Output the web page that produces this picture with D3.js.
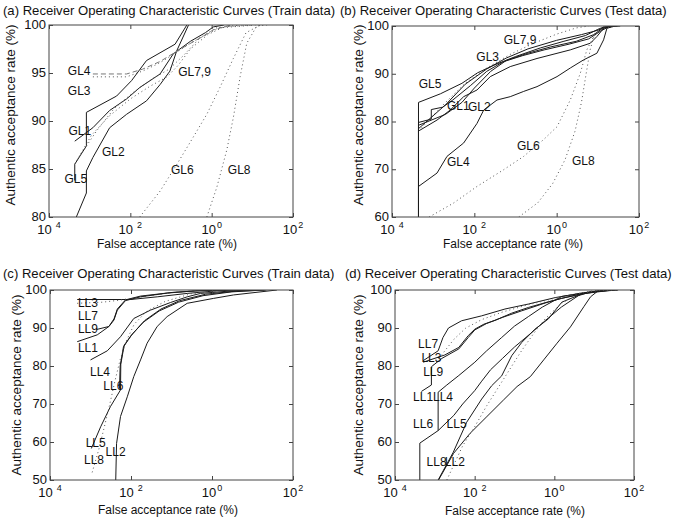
<!DOCTYPE html>
<html>
<head>
<meta charset="utf-8">
<script src="https://cdn.jsdelivr.net/npm/d3@7"></script>
<style>
  body { margin: 0; background: #fff; }
  svg { display: block; }
  text { font-family: "Liberation Sans", Arial, Helvetica, sans-serif; fill: #111; }
</style>
</head>
<body>
<svg id="chart" width="677" height="520"></svg>
<script>
// x values are false acceptance rate (%), y values authentic acceptance rate (%)
var xTicks = [1e-4, 1e-2, 1e0, 1e2];
var yTicksA = [80, 85, 90, 95, 100];
var yTicksB = [60, 70, 80, 90, 100];
var yTicksCD = [50, 60, 70, 80, 90, 100];

var titles = [
  "(a) Receiver Operating Characteristic Curves (Train data)",
  "(b) Receiver Operating Characteristic Curves (Test data)",
  "(c) Receiver Operating Characteristic Curves (Train data)",
  "(d) Receiver Operating Characteristic Curves (Test data)"
];

var seriesA = [
  {name: "GL1", pts: [[4.3e-4,87.9],[1.2e-3,89.3],[3.1e-3,91.1],[8.1e-3,92.3],[0.0172,93.5],[0.054,94.9],[0.114,97.0],[0.3,98.3],[0.7,99.2],[1.1,99.8],[2,100]]},
  {name: "GL2", pts: [[4.7e-4,80],[8.3e-4,82.5],[8.3e-4,84.8],[1.2e-3,86.2],[3.1e-3,89.3],[8.1e-3,90.7],[0.025,92.1],[0.054,93.8],[0.094,95.2],[0.138,97.3],[0.27,100]]},
  {name: "GL3", pts: [[1.2e-3,94.6],[8.1e-3,94.6],[0.02,95.2],[0.05,96.0],[0.12,97.0],[0.3,98.1],[0.7,99.0],[1.3,99.7],[5,100]]},
  {name: "GL4", pts: [[1.2e-3,94.9],[8.1e-3,94.9],[0.02,95.4],[0.054,96.2],[0.12,97.1],[0.25,97.9],[0.6,98.8],[1.1,99.5],[3,100]]},
  {name: "GL5", pts: [[4.3e-4,83.8],[4.3e-4,85.5],[8.3e-4,87.4],[8.3e-4,90.9],[4.6e-3,92.6],[0.0107,94.2],[0.025,96.3],[0.126,98.0],[0.245,100]]},
  {name: "GL6", pts: [[0.017,80],[0.054,82.7],[0.14,85.5],[0.35,88.3],[0.76,90.7],[1.6,93.5],[3.4,96.5],[7,99.2],[16,100]]},
  {name: "GL7", pts: [[4.3e-4,85.5],[1.1e-3,88.5],[3e-3,90.5],[0.01,92.3],[0.03,93.6],[0.08,94.6],[0.15,95.8],[0.3,97.5],[0.8,99],[2,99.8],[10,100]]},
  {name: "GL8", pts: [[0.76,80],[1.34,83.1],[2.36,87.0],[3.43,90.4],[5.0,94.6],[7.3,98.1],[12.9,99.9],[23,100]]},
  {name: "GL9", pts: [[5e-4,86],[1.5e-3,89],[4e-3,91.3],[0.012,93.0],[0.035,94.4],[0.09,95.4],[0.2,96.8],[0.5,98.6],[1.5,99.7],[12,100]]}
];

var seriesB = [
  {name: "GL1", pts: [[4.4e-4,60],[4.4e-4,79.8],[9e-4,80.5],[9e-4,82.5],[1.7e-3,83.0],[3e-3,84.5],[8e-3,87.5],[0.02,90.5],[0.05,92.5],[0.15,93.8],[0.5,95],[2,96.2],[6,97.3],[12,99],[20,100]]},
  {name: "GL2", pts: [[4.4e-4,60],[4.4e-4,78],[1.24e-3,80.3],[2.6e-3,82.4],[5.5e-3,85.2],[0.0116,86.6],[0.0244,89.4],[0.0746,91.5],[0.333,93.2],[2.14,95.0],[6.6,96.4],[9.5,97.8],[13.8,99.5],[25,100]]},
  {name: "GL3", pts: [[4.4e-4,60],[4.4e-4,79.2],[2e-3,81.5],[5e-3,84],[0.01,87],[0.025,90.5],[0.06,92.8],[0.2,94.3],[0.7,95.6],[3,96.8],[8,98.2],[13,99.5],[25,100]]},
  {name: "GL4", pts: [[4.4e-4,60],[4.4e-4,66.4],[1.24e-3,69.2],[2.17e-3,72.7],[5.5e-3,75.5],[0.0116,79.6],[0.0169,82.4],[0.0355,84.5],[0.0746,85.2],[0.158,86.3],[0.333,87.3],[1.02,89.4],[2.14,91.2],[4.5,92.9],[9.5,94.3],[13.8,97.1],[16.6,99.5],[25,100]]},
  {name: "GL5", pts: [[4.4e-4,60],[4.4e-4,84.0],[1.5e-3,85.8],[5e-3,88.0],[0.012,90.2],[0.03,91.8],[0.1,93.6],[0.4,95.4],[1.5,96.8],[5,98.0],[10,99.3],[14,99.8],[35,100]]},
  {name: "GL6", pts: [[8e-4,60],[3.1e-3,62.9],[0.0116,66.4],[0.0515,69.9],[0.158,72.7],[0.48,76.2],[1.02,78.9],[2.14,84.5],[3.75,90.1],[5.4,95],[7.9,97.8],[13.8,99.5],[30,100]]},
  {name: "GL7", pts: [[4.4e-4,78],[2e-3,84],[6e-3,88],[0.02,91.2],[0.08,94.2],[0.3,96.5],[1,98.3],[3,99.6],[6,100]]},
  {name: "GL8", pts: [[0.12,60],[0.35,63],[0.8,67],[1.6,72],[2.8,78],[4,84],[5.2,90],[6.5,95],[8.5,98.5],[14,100]]},
  {name: "GL9", pts: [[4.4e-4,60],[4.4e-4,78.5],[2e-3,83.5],[6e-3,87.8],[0.02,91],[0.06,93.3],[0.2,95.2],[1,97],[4,98.2],[10,99.1],[15,99.8],[30,100]]}
];

var seriesC = [
  {name: "LL1", pts: [[4.7e-4,86.4],[1.47e-3,88.2],[2.85e-3,90.4],[3.8e-3,92.4],[4.6e-3,95.0],[7.3e-3,97.4],[0.0172,98.4],[0.114,99.4],[0.52,99.8],[2,100]]},
  {name: "LL2", pts: [[4.2e-3,50],[4.4e-3,59.6],[5.5e-3,66.7],[8.1e-3,71.9],[0.0117,77.2],[0.0172,81.6],[0.025,86.0],[0.0443,90.4],[0.078,93.0],[0.244,96.5],[1.1,97.8],[3.4,98.7],[22.8,99.7],[40,100]]},
  {name: "LL3", pts: [[4.7e-4,97.5],[9.7e-3,97.5],[0.0443,98.2],[0.244,99.1],[1.34,99.8],[5,100]]},
  {name: "LL4", pts: [[1.0e-3,81.6],[2.6e-3,84.0],[5.5e-3,87.7],[0.0117,92.5],[0.0303,94.7],[0.094,96.7],[0.244,98.2],[0.52,99.1],[3.4,99.8],[10,100]]},
  {name: "LL5", pts: [[1.05e-3,58.3],[1.78e-3,64.0],[3.1e-3,69.3],[5.5e-3,73.7],[5.6e-3,80.5],[6.8e-3,85.5],[0.011,88.5],[0.022,92],[0.055,95],[0.16,97.2],[0.7,98.9],[4,99.7],[22,100]]},
  {name: "LL6", pts: [[5.2e-3,74],[5.4e-3,80],[6.5e-3,85],[0.01,88],[0.02,91.5],[0.05,94.5],[0.15,96.8],[0.6,98.5],[3,99.5],[20,100]]},
  {name: "LL7", pts: [[4.7e-4,96.5],[2e-3,96.8],[5e-3,97.3],[0.02,98.3],[0.1,99.3],[0.5,99.9],[2,100]]},
  {name: "LL8", pts: [[1.1e-3,52],[1.6e-3,58],[2.2e-3,64],[3e-3,70],[4e-3,76],[5.5e-3,82],[8e-3,87],[0.012,91],[0.025,94.5],[0.07,97],[0.3,99],[2,100]]},
  {name: "LL9", pts: [[1.4e-3,89.6],[2.85e-3,90.4],[3.8e-3,92.1],[4.6e-3,94.7],[7.3e-3,97.2],[0.0172,98.2],[0.08,99.2],[0.4,99.8],[2,100]]}
];

var seriesD = [
  {name: "LL1", pts: [[4.6e-4,73.3],[8.2e-4,75.0],[8.2e-4,79.8],[1.5e-3,82.0],[4e-3,84.5],[6.9e-3,87.5],[0.0101,89.5],[0.02,91.2],[0.05,92.8],[0.15,94.5],[0.6,96.6],[1.5,97.8],[5.5,99],[20,100]]},
  {name: "LL2", pts: [[1.24e-3,50],[2.95e-3,57.0],[7.7e-3,62.3],[0.0203,66.7],[0.0535,71.1],[0.116,74.6],[0.25,77.2],[0.54,81.6],[1.17,86.0],[2.54,90.3],[5.5,95.6],[8.1,98.2],[11.9,99.6],[40,100]]},
  {name: "LL3", pts: [[5.1e-4,81.0],[1.78e-3,82.9],[4e-3,84.9],[6.9e-3,88.0],[0.0101,89.7],[0.017,91.0],[0.0324,92.0],[0.085,93.9],[0.223,95.4],[0.71,96.9],[1.54,97.8],[5.5,99.2],[20,100]]},
  {name: "LL4", pts: [[1.21e-3,63.0],[1.21e-3,73.1],[2e-3,75],[4e-3,77.5],[0.0101,81],[0.02,84],[0.0476,87.5],[0.1,90.5],[0.223,93],[0.5,95.5],[1.54,98.3],[5.5,99.2],[20,100]]},
  {name: "LL5", pts: [[1.21e-3,50],[2.9e-3,57.3],[6.3e-3,65.2],[0.015,71.3],[0.0267,74.8],[0.0476,77.4],[0.085,82.7],[0.152,86.2],[0.328,89.7],[0.71,92.4],[1.54,96.8],[5,99],[30,100]]},
  {name: "LL6", pts: [[4.2e-4,50],[4.2e-4,59.7],[1.21e-3,63.0],[3e-3,67],[5e-3,70],[0.01,73.5],[0.015,76],[0.025,79],[0.05,82],[0.1,85],[0.25,88.5],[0.6,92],[1.5,95.5],[4,98.5],[8,99.5],[30,100]]},
  {name: "LL7", pts: [[5.1e-4,81.4],[1.21e-3,84.0],[1.6e-3,87.5],[2.2e-3,90.0],[4.7e-3,91.9],[0.015,93.2],[0.0577,95.0],[0.223,96.3],[1.05,98.0],[5.5,99.3],[15,99.8],[38,100]]},
  {name: "LL8", pts: [[2e-3,50],[3e-3,54],[5e-3,59],[0.01,64],[0.02,69.5],[0.04,74.5],[0.08,79.5],[0.15,84],[0.3,88.5],[0.6,92.5],[1.5,96.5],[4,99],[10,99.8],[40,100]]},
  {name: "LL9", pts: [[8.2e-4,79.5],[1.5e-3,83],[3e-3,87],[6e-3,90],[0.015,92.2],[0.05,94.2],[0.2,96],[1,97.8],[5,99.3],[15,100]]}
];

// curve labels: [text, x (%), y (%)]  (left edge, vertical centre)
var labelsA = [["GL4",2.9e-4,95.2],["GL3",2.9e-4,93.2],["GL1",3.0e-4,89.0],["GL2",2.0e-3,86.8],["GL5",2.4e-4,84.0],["GL6",0.10,84.9],["GL8",2.5,84.9],["GL7,9",0.15,95.1]];
var labelsB = [["GL5",4.45e-4,88.0],["GL1",2.17e-3,83.3],["GL2",7.0e-3,83.0],["GL3",0.0112,93.6],["GL7,9",0.0516,97.1],["GL4",2.17e-3,71.5],["GL6",0.109,75.0],["GL8",2.36,71.8]];
var labelsC = [["LL3",4.9e-4,96.7],["LL7",4.9e-4,93.2],["LL9",4.9e-4,89.7],["LL1",4.9e-4,84.7],["LL4",9.7e-4,78.5],["LL6",2.07e-3,74.7],["LL5",7.6e-4,59.7],["LL8",6.9e-4,55.3],["LL2",2.36e-3,57.4]];
var labelsD = [["LL7",3.8e-4,86.0],["LL3",4.6e-4,82.3],["LL9",5.1e-4,78.6],["LL1",2.84e-4,71.8],["LL4",9.0e-4,71.8],["LL6",2.84e-4,64.7],["LL5",1.97e-3,64.7],["LL8",6.2e-4,54.9],["LL2",1.78e-3,54.9]];

// line styles per curve name
var dottedA = ["GL3", "GL6", "GL7", "GL8", "GL9"];
var dashedA = ["GL4"];
var dottedB = ["GL6", "GL7", "GL8"];
var dottedC = ["LL7", "LL8"];
var dottedD = ["LL8", "LL9"];

var svg = d3.select("#chart");

var panels = [
  {id: "a", left: 49, right: 293, top: 25, bottom: 217, y: [80, 100], yTicks: yTicksA, series: seriesA, labels: labelsA, dotted: dottedA, dashed: dashedA,
   titleX: 3, titleY: 15, xlabX: 167, xlabY: 248, ylabX: 15, ylabY: 115},
  {id: "b", left: 392, right: 639, top: 26, bottom: 217, y: [60, 100], yTicks: yTicksB, series: seriesB, labels: labelsB, dotted: dottedB, dashed: [],
   titleX: 340, titleY: 15, xlabX: 513, xlabY: 248, ylabX: 363, ylabY: 115},
  {id: "c", left: 50, right: 293, top: 290, bottom: 480, y: [50, 100], yTicks: yTicksCD, series: seriesC, labels: labelsC, dotted: dottedC, dashed: [],
   titleX: 3, titleY: 278, xlabX: 168, xlabY: 514, ylabX: 21, ylabY: 385},
  {id: "d", left: 395, right: 634, top: 290, bottom: 480, y: [50, 100], yTicks: yTicksCD, series: seriesD, labels: labelsD, dotted: dottedD, dashed: [],
   titleX: 345, titleY: 278, xlabX: 515, xlabY: 515, ylabX: 363, ylabY: 385}
];

panels.forEach(function(p, i) { drawPanel(p, titles[i]); });

function drawPanel(p, title) {
  var x = d3.scaleLog().domain([1e-4, 1e2]).range([p.left, p.right]);
  var y = d3.scaleLinear().domain(p.y).range([p.bottom, p.top]);
  var g = svg.append("g").attr("class", "panel_" + p.id);

  g.append("clipPath").attr("id", "clip_" + p.id)
    .append("rect")
      .attr("x", p.left).attr("y", p.top)
      .attr("width", p.right - p.left).attr("height", p.bottom - p.top);

  var line = d3.line()
    .x(function(d) { return x(d[0]); })
    .y(function(d) { return y(d[1]); });

  var curves = g.append("g").attr("clip-path", "url(#clip_" + p.id + ")");
  curves.selectAll("path")
    .data(p.series)
    .enter().append("path")
      .attr("d", function(d) { return line(d.pts); })
      .attr("fill", "none")
      .attr("stroke", function(d) {
        if (p.dotted.indexOf(d.name) >= 0) return "#555";
        if (p.dashed.indexOf(d.name) >= 0) return "#777";
        return "#1a1a1a";
      })
      .attr("stroke-width", 1)
      .attr("stroke-dasharray", function(d) {
        if (p.dotted.indexOf(d.name) >= 0) return "1,3";
        if (p.dashed.indexOf(d.name) >= 0) return "5,3";
        return null;
      });

  // axes (ticks inward, mirrored)
  var tick = 4;
  var axes = [
    g.append("g").attr("transform", "translate(0," + p.bottom + ")").call(d3.axisBottom(x).tickValues(xTicks).tickSizeInner(-tick).tickSizeOuter(0).tickFormat("")),
    g.append("g").attr("transform", "translate(0," + p.top + ")").call(d3.axisTop(x).tickValues(xTicks).tickSizeInner(-tick).tickSizeOuter(0).tickFormat("")),
    g.append("g").attr("transform", "translate(" + p.left + ",0)").call(d3.axisLeft(y).tickValues(p.yTicks).tickSizeInner(-tick).tickSizeOuter(0).tickFormat("")),
    g.append("g").attr("transform", "translate(" + p.right + ",0)").call(d3.axisRight(y).tickValues(p.yTicks).tickSizeInner(-tick).tickSizeOuter(0).tickFormat(""))
  ];
  axes.forEach(function(a) {
    a.select(".domain").remove();
    a.selectAll("line").attr("stroke", "#444");
  });

  g.append("rect")
    .attr("x", p.left).attr("y", p.top)
    .attr("width", p.right - p.left).attr("height", p.bottom - p.top)
    .attr("fill", "none").attr("stroke", "#444").attr("stroke-width", 1);

  // y tick labels
  g.selectAll(".ylab")
    .data(p.yTicks)
    .enter().append("text")
      .attr("x", p.left - 3)
      .attr("y", function(d) { return y(d); })
      .attr("dy", "0.3em")
      .attr("text-anchor", "end")
      .attr("font-size", 13)
      .text(function(d) { return d; });

  // x tick labels: 10 with exponent (minus sign shown as a gap, as in the source)
  var xl = g.selectAll(".xlab")
    .data(xTicks)
    .enter().append("text")
      .attr("x", function(d) { return x(d); })
      .attr("y", p.bottom + 17)
      .attr("text-anchor", "middle")
      .attr("font-size", 13);
  xl.append("tspan").text("10");
  xl.append("tspan")
    .attr("dy", -6)
    .attr("dx", function(d) { return d < 1 ? 4 : 1; })
    .attr("font-size", 9)
    .text(function(d) { return Math.abs(Math.round(Math.log10(d))); });

  // curve labels
  g.selectAll(".clab")
    .data(p.labels)
    .enter().append("text")
      .attr("x", function(d) { return x(d[1]); })
      .attr("y", function(d) { return y(d[2]); })
      .attr("dy", "0.36em")
      .attr("font-size", 12)
      .text(function(d) { return d[0]; });

  g.append("text")
    .attr("x", p.titleX).attr("y", p.titleY)
    .attr("font-size", 13.1)
    .text(title);

  g.append("text")
    .attr("x", p.xlabX).attr("y", p.xlabY)
    .attr("text-anchor", "middle")
    .attr("font-size", 12)
    .text("False acceptance rate (%)");

  g.append("text")
    .attr("transform", "translate(" + p.ylabX + "," + p.ylabY + ") rotate(-90)")
    .attr("text-anchor", "middle")
    .attr("font-size", 13.5)
    .text("Authentic acceptance rate (%)");
}
</script>
</body>
</html>
